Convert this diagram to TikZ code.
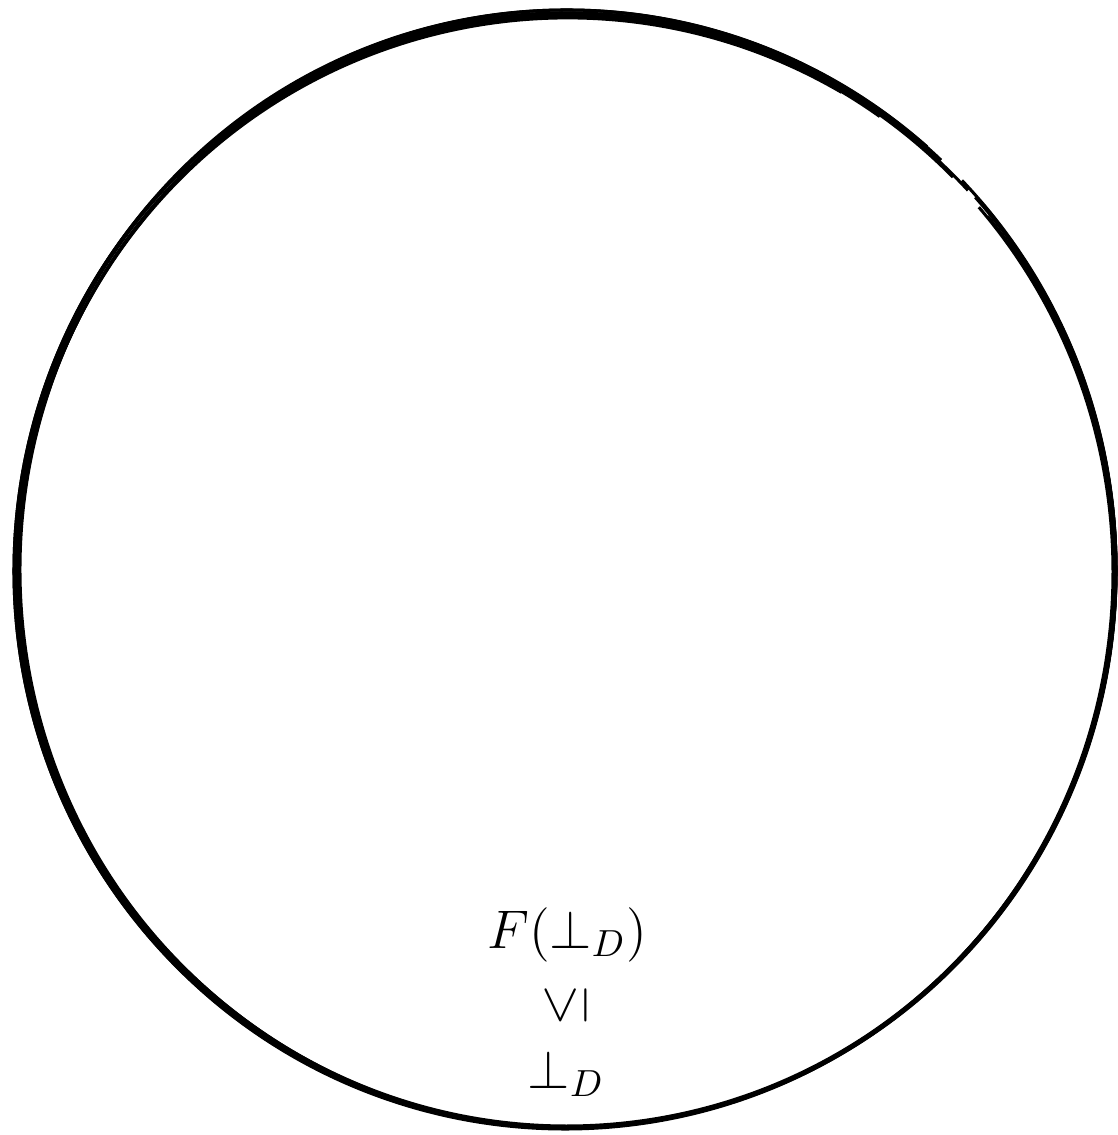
\documentclass[tikz,border=0pt]{standalone}
\usepackage{amsmath,amssymb}
\usepackage{graphicx}
\usepackage{tikz}
\usetikzlibrary{positioning}

\begin{document}
\begin{tikzpicture}[
  x=0.265pt, y=0.265pt,
  stroke/.style={line width=0.8pt, black},
  fixLabel/.style={font=\Large, inner sep=0pt}
]
  \useasboundingbox (0,0) rectangle (1118,1135);

  % Hand-drawn circle, a few strokes laid over each other
  \foreach \dx/\dy/\rx/\ry/\st/\sp in {0/0/550/559/47/354, 2/-1/548/557/52/350,
      -1/-2/551/558/43/352, 1/1/549/558/49/355, -2/-2/550/557/45/351,
      0/-3/547/556/55/346, 1/-4/549/555/60/340}
    \draw[stroke] (566+\dx,566+\dy) ++(\st:{\rx} and {\ry})
      arc[start angle=\st, delta angle=\sp, x radius=\rx, y radius=\ry];

  % Labels at the bottom
  \node[fixLabel] (fbot) at (567,200) {$F(\bot_D)$};
  \node[fixLabel] (le) at (566,130) {\rotatebox{90}{$\leq$}};
  \node[fixLabel] (bot) at (566,61) {$\bot_D$};
\end{tikzpicture}
\end{document}
